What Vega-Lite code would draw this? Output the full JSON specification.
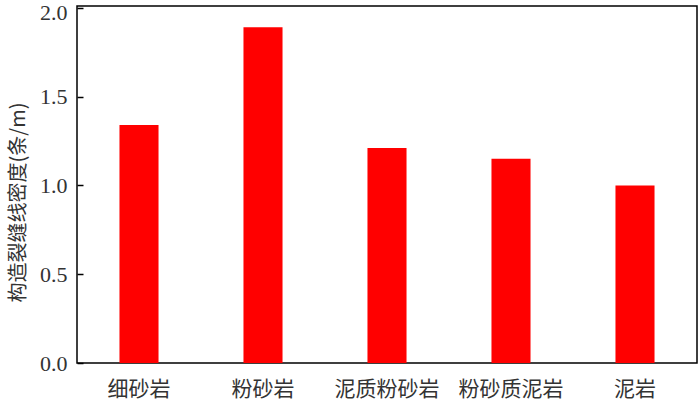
{
  "$schema": "https://vega.github.io/schema/vega-lite/v6.json",
  "width": 620,
  "height": 357,
  "autosize": "none",
  "padding": {"left": 77, "top": 6, "right": 3, "bottom": 49},
  "background": "white",
  "data": {"values": [
    {"type": "细砂岩", "density": 1.34},
    {"type": "粉砂岩", "density": 1.89},
    {"type": "泥质粉砂岩", "density": 1.21},
    {"type": "粉砂质泥岩", "density": 1.15},
    {"type": "泥岩", "density": 1.00}
  ]},
  "config": {
    "view": {"stroke": "#000", "strokeWidth": 1.5},
    "axis": {"grid": false, "domain": false, "labelColor": "#333", "titleColor": "#333"}
  },
  "mark": {"type": "bar", "color": "#ff0000"},
  "encoding": {
    "x": {
      "field": "type", "type": "nominal", "sort": null,
      "scale": {"paddingInner": 0.685, "paddingOuter": 0.3425},
      "axis": {"title": null, "labelAngle": 0, "ticks": false, "labelPadding": 15,
               "labelFont": "Noto Sans CJK SC", "labelFontSize": 21, "labelFontWeight": "normal"}
    },
    "y": {
      "field": "density", "type": "quantitative",
      "scale": {"domain": [0, 2.01], "nice": false},
      "axis": {"title": "构造裂缝线密度(条/m)", "values": [0, 0.5, 1.0, 1.5, 2.0], "format": ".1f",
               "tickSize": -6, "tickColor": "#000", "tickWidth": 1.5, "labelPadding": 16,
               "labelOffset": {"condition": {"test": "datum.value == 2", "value": 5}, "value": 0},
               "labelFont": "Liberation Serif", "labelFontSize": 22,
               "titleFont": "Noto Sans CJK SC", "titleFontSize": 20, "titleFontWeight": "normal",
               "titleY": 196, "titleX": -49}
    }
  }
}
